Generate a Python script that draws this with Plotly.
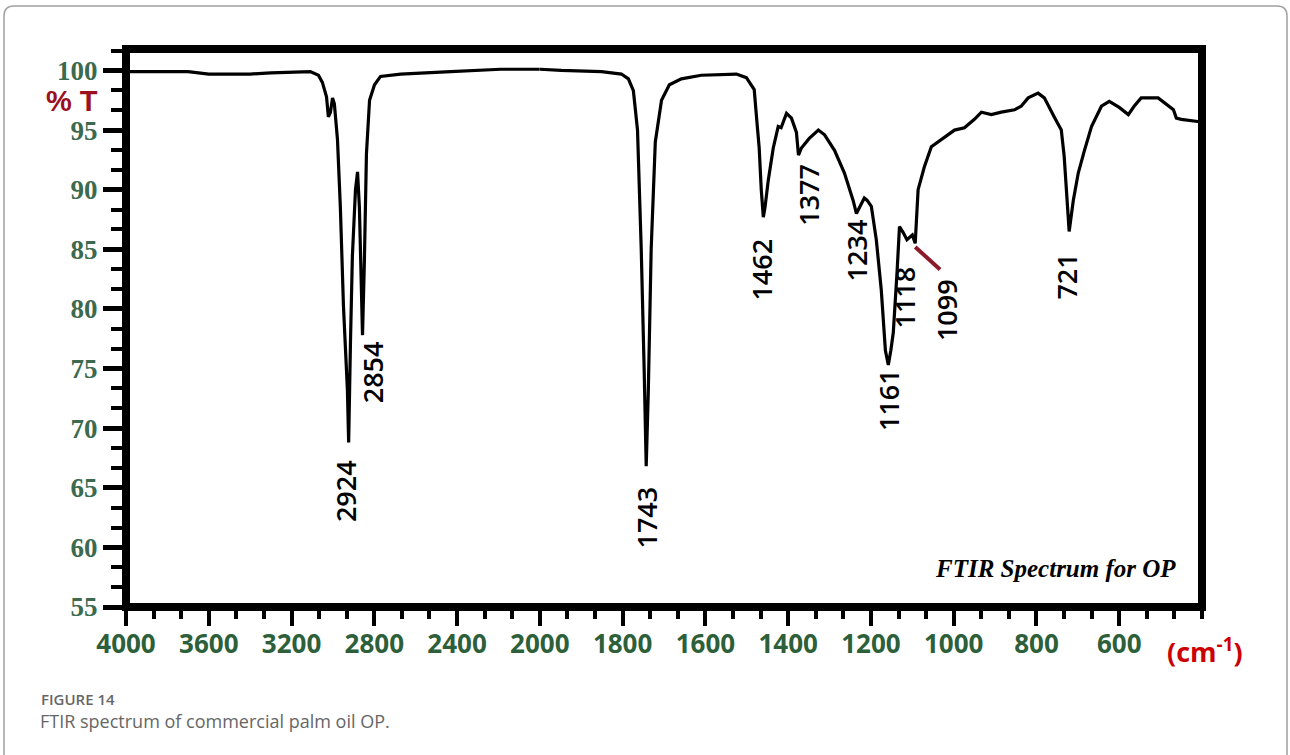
import plotly.graph_objects as go

# ---------------- data ----------------
# region above 2000 cm-1 (compressed scale)
wavenumber_high = [3990, 3700, 3600, 3400, 3300, 3150, 3109, 3070, 3051, 3031, 3022,
                   3012, 3002, 2993, 2978, 2964, 2949, 2930, 2924, 2915, 2906, 2891,
                   2881, 2872, 2862, 2857, 2848, 2838, 2823, 2799, 2770, 2673, 2431,
                   2189, 2000]
transmittance_high = [99.9, 99.9, 99.7, 99.7, 99.8, 99.9, 99.9, 99.6, 99.0, 97.8, 96.1,
                      96.5, 97.7, 97.2, 94.2, 88.5, 80.2, 73.2, 68.8, 77.4, 84.4, 90.0,
                      91.5, 88.5, 82.0, 77.8, 84.0, 93.0, 97.5, 98.8, 99.5, 99.7, 99.9,
                      100.1, 100.1]

# region below 2000 cm-1 (expanded scale)
wavenumber_low = [2000, 1948, 1851, 1803, 1786, 1774, 1764, 1755, 1748, 1743, 1738,
                  1731, 1721, 1706, 1687, 1658, 1610, 1525, 1501, 1489, 1482, 1475,
                  1470, 1465, 1460, 1456, 1448, 1436, 1424, 1417, 1404, 1392, 1380,
                  1375, 1368, 1349, 1327, 1312, 1288, 1264, 1243, 1235, 1223, 1216,
                  1209, 1199, 1187, 1175, 1165, 1158, 1152, 1146, 1137, 1135, 1131,
                  1122, 1113, 1100, 1093, 1086, 1071, 1054, 1030, 998, 974, 950,
                  933, 909, 885, 853, 837, 820, 796, 781, 757, 740, 733, 728, 721,
                  711, 699, 684, 667, 643, 624, 600, 578, 564, 547, 506, 481, 469,
                  462, 450, 406]
transmittance_low = [100.1, 100.0, 99.9, 99.7, 99.3, 98.3, 95.0, 85.0, 75.0, 66.8, 73.0,
                     85.0, 94.0, 97.5, 98.8, 99.3, 99.6, 99.7, 99.4, 98.8, 98.4, 95.5,
                     93.5, 90.0, 87.7, 88.5, 90.8, 93.5, 95.3, 95.2, 96.4, 96.0, 94.8,
                     92.9, 93.5, 94.3, 95.0, 94.6, 93.3, 91.4, 89.1, 88.0, 88.9, 89.3,
                     89.1, 88.6, 85.8, 81.6, 76.5, 75.3, 76.5, 78.0, 83.0, 84.4, 86.9,
                     86.4, 85.8, 86.2, 85.5, 90.0, 91.9, 93.6, 94.2, 95.0, 95.2, 95.9,
                     96.5, 96.3, 96.5, 96.7, 97.0, 97.7, 98.1, 97.7, 96.1, 95.0, 92.8,
                     90.0, 86.5, 89.1, 91.4, 93.3, 95.3, 97.0, 97.4, 96.9, 96.3, 97.0,
                     97.7, 97.7, 97.0, 96.7, 96.0, 95.9, 95.7]

# peak labels
peak_labels = ["2924", "2854", "1743", "1462", "1377", "1234", "1161", "1118", "1099", "721"]
peak_wn = [2924, 2854, 1743, 1462, 1377, 1234, 1161, 1118, 1099, 721]
peak_T = [68.8, 77.8, 66.8, 87.7, 92.9, 88.0, 75.3, 84.3, 85.5, 86.5]
# leader line for the 1099 label: from the band to the label (wavenumber, %T)
leader_wn = [1093, 1033]
leader_T = [85.2, 83.3]

x_ticks_high = [4000, 3600, 3200, 2800, 2400]
x_ticks_low = [2000, 1800, 1600, 1400, 1200, 1000, 800, 600]
y_ticks = [55, 60, 65, 70, 75, 80, 85, 90, 95, 100]

# ---------------- layout constants ----------------
W, H = 1290, 755
L, R, T, B = 126, 88, 49, 148
PW, PH = W - L - R, H - T - B
SPLIT = 5 / 13  # 4000-2000 occupies 5 of 13 equal label intervals


def px(xp):
    return (xp - L) / PW


def py(yp):
    return (H - B - yp) / PH


# label offsets (x shift px, gap below tip px)
label_dx = [-3, 9, 0, -1, 10, 0, 2, 0, 34, -3]
label_gap = [17, 5, 19, 20, 8, 5, 3, 8, 35, 21]

Y_COL = "#3b6a4e"
X_COL = "#2d5f3a"

fig = go.Figure()
fig.add_trace(go.Scatter(x=wavenumber_high, y=transmittance_high, mode="lines",
                         line=dict(color="black", width=3.2), xaxis="x", yaxis="y",
                         hoverinfo="skip", showlegend=False))
fig.add_trace(go.Scatter(x=wavenumber_low, y=transmittance_low, mode="lines",
                         line=dict(color="black", width=3.2), xaxis="x2", yaxis="y",
                         hoverinfo="skip", showlegend=False))
fig.add_trace(go.Scatter(x=leader_wn, y=leader_T, mode="lines",
                         line=dict(color="#8b1a2a", width=4), xaxis="x2", yaxis="y",
                         hoverinfo="skip", showlegend=False))

xfont = dict(family="Open Sans, Liberation Sans, sans-serif", size=26, color=X_COL, weight="bold")
common_x = dict(showgrid=False, zeroline=False, showline=False, ticks="outside",
                ticklen=18, tickwidth=4, tickcolor="black", tickfont=xfont, anchor="y",
                ticklabelstandoff=-4)

fig.update_layout(
    width=W, height=H,
    margin=dict(l=L, r=R, t=T, b=B, pad=0),
    paper_bgcolor="white", plot_bgcolor="white",
    xaxis=dict(domain=[0, SPLIT], range=[4000, 2000], tickmode="array",
               tickvals=x_ticks_high, ticktext=[str(v) for v in x_ticks_high],
               minor=dict(tickmode="linear", tick0=2000, dtick=400 / 3, ticks="outside",
                          ticklen=11, tickwidth=3.5, tickcolor="black"),
               **common_x),
    xaxis2=dict(domain=[SPLIT, 1], range=[2000, 400], tickmode="array",
                tickvals=x_ticks_low, ticktext=[str(v) for v in x_ticks_low],
                minor=dict(tickmode="linear", tick0=2000, dtick=200 / 3, ticks="outside",
                           ticklen=11, tickwidth=3.5, tickcolor="black"),
                **common_x),
    yaxis=dict(range=[55, 101.8], tickmode="array", tickvals=y_ticks,
               ticktext=[str(v) for v in y_ticks], anchor="x",
               showgrid=False, zeroline=False, showline=False, ticks="outside",
               ticklen=22, tickwidth=4.5, tickcolor="black",
               minor=dict(tickmode="linear", tick0=55, dtick=5 / 3, ticks="outside",
                          ticklen=14, tickwidth=4, tickcolor="black"),
               tickfont=dict(family="Liberation Serif, Times New Roman, serif", size=27,
                             color=Y_COL, weight="bold")),
)

# plot frame
fig.add_shape(type="rect", xref="paper", yref="paper", x0=0, x1=1, y0=0, y1=1,
              line=dict(color="black", width=8), fillcolor="rgba(0,0,0,0)", layer="above")

# outer rounded page frame
x0f, x1f, y0f, y1f, r = px(4), px(1287), py(6), py(775), 10
rx, ry = r / PW, r / PH
path = (f"M {x0f + rx},{y0f} L {x1f - rx},{y0f} Q {x1f},{y0f} {x1f},{y0f - ry} "
        f"L {x1f},{y1f} L {x0f},{y1f} L {x0f},{y0f - ry} Q {x0f},{y0f} {x0f + rx},{y0f} Z")
fig.add_shape(type="path", xref="paper", yref="paper", path=path,
              line=dict(color="#a0a0a0", width=1.5), fillcolor="rgba(0,0,0,0)", layer="below")

# peak labels
pfont = dict(family="Open Sans, Liberation Sans, sans-serif", size=27, color="black", weight=600)
for lab, wn, tv, dx, gap in zip(peak_labels, peak_wn, peak_T, label_dx, label_gap):
    axis = "x" if wn >= 2000 else "x2"
    fig.add_annotation(x=wn, y=tv, xref=axis, yref="y", text=lab, showarrow=False,
                       textangle=-90, xanchor="center", yanchor="top",
                       xshift=dx, yshift=-gap, font=pfont, borderpad=0)

# in-plot title
fig.add_annotation(x=px(1178), y=py(568), xref="paper", yref="paper",
                   text="<b><i>FTIR Spectrum for OP</i></b>", showarrow=False,
                   xanchor="right", yanchor="middle",
                   font=dict(family="Liberation Serif, Times New Roman, serif", size=25, color="black"))

# axis labels
fig.add_annotation(x=px(72), y=py(101), xref="paper", yref="paper", text="<b>% T</b>",
                   showarrow=False, xanchor="center", yanchor="middle",
                   font=dict(family="Liberation Sans, Arial, sans-serif", size=29, color="#9b1020"))
fig.add_annotation(x=px(1205), y=py(650), xref="paper", yref="paper",
                   text="<b>(cm<sup>-1</sup>)</b>", showarrow=False, xanchor="center", yanchor="middle",
                   font=dict(family="Open Sans, Liberation Sans, sans-serif", size=27, color="#cc0000"))

# caption
fig.add_annotation(x=px(39), y=py(699), xref="paper", yref="paper", text="FIGURE 14",
                   showarrow=False, xanchor="left", yanchor="middle",
                   font=dict(family="Open Sans, sans-serif", size=15, color="#666666", weight=600))
fig.add_annotation(x=px(38), y=py(721), xref="paper", yref="paper",
                   text="FTIR spectrum of commercial palm oil OP.",
                   showarrow=False, xanchor="left", yanchor="middle",
                   font=dict(family="Open Sans, sans-serif", size=18, color="#666666"))

fig.write_html("out.html")
